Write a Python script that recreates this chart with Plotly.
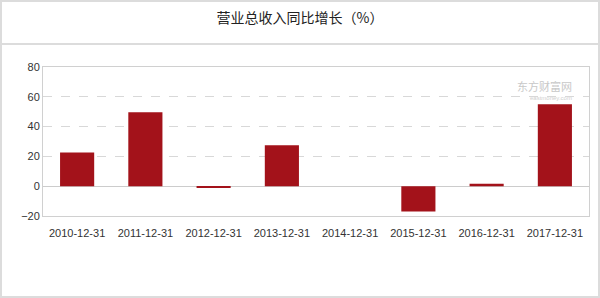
import plotly.graph_objects as go

# Year-over-year growth of total operating revenue (%)
periods = ["2010-12-31", "2011-12-31", "2012-12-31", "2013-12-31",
           "2014-12-31", "2015-12-31", "2016-12-31", "2017-12-31"]
growth = [22.6, 49.6, -1.0, 27.5, 0.0, -16.9, 1.6, 55.0]
y_ticks = [-20, 0, 20, 40, 60, 80]

W, H = 600, 298
L, R, T, B = 43, 11, 67, 82
pw, ph = W - L - R, H - T - B


def px_x(x):
    return (x - L) / pw


def px_y(y):
    return (H - B - y) / ph


fig = go.Figure()
fig.add_trace(go.Bar(
    x=periods, y=growth,
    marker=dict(color="#A3121A", line=dict(width=0)),
    hoverinfo="x+y",
))

border = "#dcdcdc"
fig.update_layout(
    width=W, height=H,
    margin=dict(l=L, r=R, t=T, b=B),
    paper_bgcolor="white", plot_bgcolor="white",
    bargap=0.5,
    showlegend=False,
    font=dict(family="Liberation Sans, Arial, Noto Sans CJK SC, sans-serif",
              size=11, color="#333333"),
    title=dict(
        text="营业总收入同比增长（%）",
        x=0.5, xanchor="center", y=1 - 18 / H, yanchor="middle",
        font=dict(family="Noto Sans CJK SC, sans-serif", size=14, color="#222222"),
    ),
    xaxis=dict(
        type="category",
        showline=True, linecolor="#d0d0d0", linewidth=1, mirror=True,
        showgrid=False, zeroline=False,
        ticks="outside", ticklen=7, tickcolor="rgba(0,0,0,0)",
        tickfont=dict(size=11, color="#333333"),
        fixedrange=True,
    ),
    yaxis=dict(
        range=[-20, 80],
        tickvals=y_ticks,
        showline=True, linecolor="#d0d0d0", linewidth=1, mirror=True,
        showgrid=True, gridcolor="#d8d8d8", griddash="dash", gridwidth=1,
        zeroline=True, zerolinecolor="#cccccc", zerolinewidth=1,
        ticks="", tickfont=dict(size=11, color="#333333"),
        fixedrange=True,
    ),
    shapes=[
        # outer frame of the card
        dict(type="rect", xref="paper", yref="paper",
             x0=px_x(1), x1=px_x(W - 1), y0=px_y(H - 1), y1=px_y(1),
             line=dict(color=border, width=2), fillcolor="rgba(0,0,0,0)", layer="below"),
        # divider under the title
        dict(type="line", xref="paper", yref="paper",
             x0=px_x(1), x1=px_x(W - 1), y0=px_y(44), y1=px_y(44),
             line=dict(color=border, width=2)),
    ],
    annotations=[
        dict(text="东方财富网", xref="paper", yref="paper",
             x=px_x(574), y=px_y(86), xanchor="right", yanchor="middle",
             showarrow=False,
             font=dict(family="Noto Sans CJK SC, sans-serif", size=11, color="#c8c8c8")),
        dict(text="eastmoney.com", xref="paper", yref="paper",
             x=px_x(574), y=px_y(98), xanchor="right", yanchor="middle",
             showarrow=False,
             font=dict(family="Liberation Sans, sans-serif", size=6, color="#cfcfcf")),
    ],
)

fig.write_html("out.html")
